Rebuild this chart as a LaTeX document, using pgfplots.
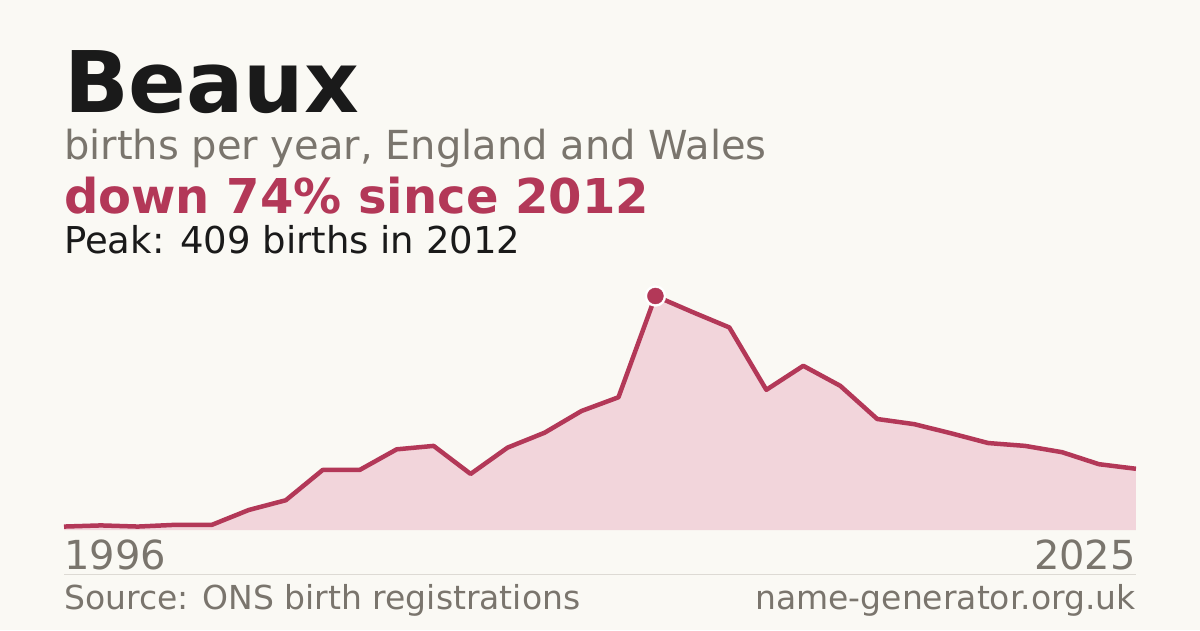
\documentclass[border=0pt]{standalone}
\usepackage{fontspec}
\setmainfont{DejaVu Sans}
\usepackage{pgfplots}
\pgfplotsset{compat=1.18}

\definecolor{bg}{HTML}{FAF9F4}
\definecolor{accent}{HTML}{B33858}
\definecolor{areafill}{HTML}{F2D5DB}
\definecolor{muted}{HTML}{7A756D}
\definecolor{ink}{HTML}{1A1A1A}
\definecolor{rule}{HTML}{DDDAD4}

\begin{document}
\begin{tikzpicture}
\fill[bg] (0pt,0pt) rectangle (1200pt,630pt);

% headings (baselines measured up from the bottom of the 1200x630 canvas)
\node[anchor=base west,inner sep=0,text=ink] at (64pt,517.3pt)
  {\fontsize{85}{92}\selectfont\bfseries Beaux};
\node[anchor=base west,inner sep=0,text=muted] at (64pt,470.7pt)
  {\fontsize{40}{46}\selectfont births per year, England and Wales};
\node[anchor=base west,inner sep=0,text=accent] at (64pt,416pt)
  {\fontsize{48}{54}\selectfont\bfseries down 74\% since 2012};
\node[anchor=base west,inner sep=0,text=ink] at (64pt,376pt)
  {\fontsize{37}{42}\selectfont Peak: 409 births in 2012};

\begin{axis}[
    at={(64pt,100pt)}, anchor=south west,
    width=1072pt, height=234pt,
    scale only axis,
    xmin=1996, xmax=2025,
    ymin=0, ymax=409,
    axis lines=none,
    clip=false,
]
\addplot[fill=areafill, draw=none] coordinates {
    (1996,6) (1997,8) (1998,6) (1999,9) (2000,9)
    (2001,35) (2002,52) (2003,105) (2004,105) (2005,141)
    (2006,147) (2007,98) (2008,144) (2009,170) (2010,208)
    (2011,232) (2012,409) (2013,381) (2014,354) (2015,245)
    (2016,287) (2017,252) (2018,194) (2019,185) (2020,169)
    (2021,152) (2022,147) (2023,136) (2024,115) (2025,107)
} \closedcycle;
\addplot[color=accent, line width=4.5pt, line join=round, mark=none] coordinates {
    (1996,6) (1997,8) (1998,6) (1999,9) (2000,9)
    (2001,35) (2002,52) (2003,105) (2004,105) (2005,141)
    (2006,147) (2007,98) (2008,144) (2009,170) (2010,208)
    (2011,232) (2012,409) (2013,381) (2014,354) (2015,245)
    (2016,287) (2017,252) (2018,194) (2019,185) (2020,169)
    (2021,152) (2022,147) (2023,136) (2024,115) (2025,107)
};
% peak marker: white halo, then the red dot
\addplot[color=white, only marks, mark=*, mark size=10.5pt,
    mark options={fill=white, draw=white}] coordinates {(2012,409)};
\addplot[color=accent, only marks, mark=*, mark size=8pt,
    mark options={fill=accent, draw=accent}] coordinates {(2012,409)};
\end{axis}

% year labels, rule and footer
\node[anchor=base west,inner sep=0,text=muted] at (64pt,60.7pt)
  {\fontsize{40}{45}\selectfont 1996};
\node[anchor=base east,inner sep=0,text=muted] at (1136pt,60.7pt)
  {\fontsize{40}{45}\selectfont 2025};
\draw[rule, line width=1pt] (64pt,55.5pt) -- (1136pt,55.5pt);
\node[anchor=base west,inner sep=0,text=muted] at (64pt,20.7pt)
  {\fontsize{33}{38}\selectfont Source: ONS birth registrations};
\node[anchor=base east,inner sep=0,text=muted] at (1136pt,20.7pt)
  {\fontsize{33}{38}\selectfont name-generator.org.uk};

\pgfresetboundingbox
\useasboundingbox (0pt,0pt) rectangle (1200pt,630pt);
\end{tikzpicture}
\end{document}
